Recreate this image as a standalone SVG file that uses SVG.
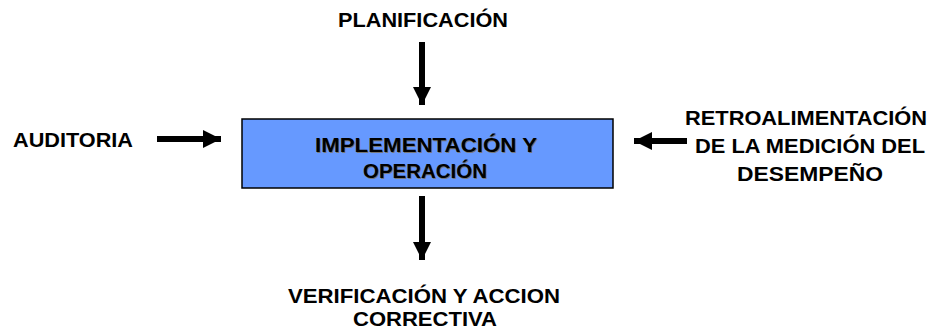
<svg xmlns="http://www.w3.org/2000/svg" width="939" height="329" viewBox="0 0 939 329">
<style>
text{font-family:"Liberation Sans",Arial,sans-serif;font-weight:bold;font-size:21px;fill:#000;text-anchor:middle}
.sh{fill:#777}
.ln{stroke:#000;stroke-width:6;fill:none}
</style>
<defs>
<marker id="ah" viewBox="0 0 10 10" refX="10" refY="5" markerWidth="18" markerHeight="18" markerUnits="userSpaceOnUse" orient="auto">
<path d="M0,0 L10,5 L0,10 Z" fill="#000"/>
</marker>
</defs>
<rect width="939" height="329" fill="#fff"/>
<g id="box">
<rect x="242" y="119" width="371" height="69" fill="#6699FF" stroke="#000" stroke-width="1.5"/>
<text class="sh" x="427" y="153" textLength="222" lengthAdjust="spacingAndGlyphs">IMPLEMENTACIÓN Y</text>
<text class="sh" x="426" y="179" textLength="124" lengthAdjust="spacingAndGlyphs">OPERACIÓN</text>
<text x="426" y="152" textLength="222" lengthAdjust="spacingAndGlyphs">IMPLEMENTACIÓN Y</text>
<text x="425" y="178" textLength="124" lengthAdjust="spacingAndGlyphs">OPERACIÓN</text>
</g>
<g id="planificacion">
<text x="423" y="27" textLength="170" lengthAdjust="spacingAndGlyphs">PLANIFICACIÓN</text>
</g>
<g id="auditoria">
<text x="73" y="147" textLength="120" lengthAdjust="spacingAndGlyphs">AUDITORIA</text>
</g>
<g id="retro">
<text x="806" y="125" textLength="242" lengthAdjust="spacingAndGlyphs">RETROALIMENTACIÓN</text>
<text x="810" y="153" textLength="230" lengthAdjust="spacingAndGlyphs">DE LA MEDICIÓN DEL</text>
<text x="810" y="181" textLength="146" lengthAdjust="spacingAndGlyphs">DESEMPEÑO</text>
</g>
<g id="verificacion">
<text x="424" y="303" textLength="272" lengthAdjust="spacingAndGlyphs">VERIFICACIÓN Y ACCION</text>
<text x="425" y="326" textLength="144" lengthAdjust="spacingAndGlyphs">CORRECTIVA</text>
</g>
<g id="connectors">
<line class="ln" x1="422" y1="42" x2="422" y2="105" marker-end="url(#ah)"/>
<line class="ln" x1="157" y1="139" x2="221" y2="139" marker-end="url(#ah)"/>
<line class="ln" x1="687" y1="141" x2="634" y2="141" marker-end="url(#ah)"/>
<line class="ln" x1="422" y1="196" x2="422" y2="260" marker-end="url(#ah)"/>
</g>
</svg>
